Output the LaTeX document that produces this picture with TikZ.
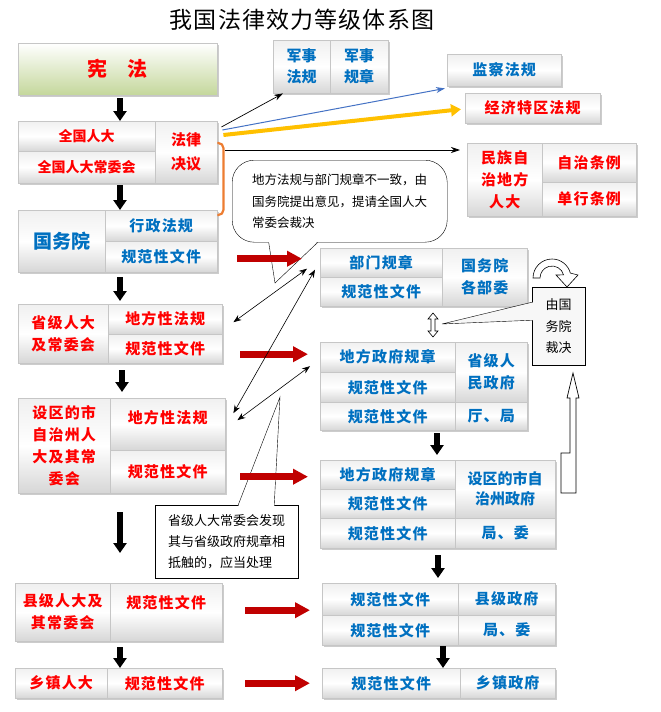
\documentclass[tikz,border=0pt]{standalone}
\usepackage{fontspec}
\setmainfont{Noto Sans CJK SC}
\usetikzlibrary{arrows.meta,shadows,calc}

\definecolor{lawred}{RGB}{255,0,0}
\definecolor{lawblue}{RGB}{0,112,192}
\definecolor{arrowred}{RGB}{192,0,0}
\definecolor{arrowyellow}{RGB}{255,192,0}
\definecolor{linkblue}{RGB}{68,114,196}
\definecolor{bracketorange}{RGB}{237,125,49}
\definecolor{xfgreen}{RGB}{196,215,155}

\begin{document}
\begin{tikzpicture}[x=1pt,y=-1pt,
  cell/.style={draw=gray!45, top color=gray!12, bottom color=gray!32, middle color=white,
    anchor=north west, inner sep=0pt, align=center,
    font=\fontsize{15pt}{22pt}\selectfont\bfseries\addfontfeatures{LetterSpace=8},
    drop shadow={shadow xshift=1.5pt, shadow yshift=-1.5pt, opacity=.4}},
  dims/.style 2 args={minimum width=#1pt, minimum height=#2pt},
  redlbl/.style={text=lawred},
  bluelbl/.style={text=lawblue},
  downarrow/.style={line width=6pt, -{Triangle[width=13pt,length=10pt]}},
  redarrow/.style={arrowred, line width=7pt, -{Triangle[width=15pt,length=15pt]}},
  thinlink/.style={line width=0.6pt, {Stealth[length=8pt,width=6pt]}-{Stealth[length=8pt,width=6pt]}},
  note/.style={draw, fill=white, anchor=north west, align=left, inner sep=0pt,
    font=\fontsize{12.5pt}{21.5pt}\selectfont},
]
\useasboundingbox (0,0) rectangle (661,712);

% Title
\node[font=\fontsize{23pt}{26pt}\selectfont\addfontfeatures{LetterSpace=5}] (title) at (302,20) {我国法律效力等级体系图};

%% left column
% 宪法
\node[cell, top color=white, bottom color=xfgreen, redlbl, dims={199}{52},
  font=\fontsize{20pt}{24pt}\selectfont\bfseries] (xf) at (18,43) {宪\quad 法};
% 全国人大
\node[cell, redlbl, dims={137}{30}, font=\fontsize{14pt}{22pt}\selectfont\bfseries] (qgA) at (18,121) {全国人大};
\node[cell, redlbl, dims={137}{32}, font=\fontsize{14pt}{22pt}\selectfont\bfseries] (qgB) at (18,151) {全国人大常委会};
\node[cell, redlbl, dims={62}{62}, font=\fontsize{15pt}{24pt}\selectfont\bfseries] (fl) at (155,121) {法律\\决议};
% 国务院
\node[cell, bluelbl, dims={87}{62}, font=\fontsize{19pt}{22pt}\selectfont\bfseries] (gwy) at (18,210) {国务院};
\node[cell, bluelbl, dims={112}{31}] (xzfg) at (105,210) {行政法规};
\node[cell, bluelbl, dims={112}{31}] (gwyB) at (105,241) {规范性文件};
% 省级人大
\node[cell, redlbl, dims={90}{59}] (sjrd) at (18,304) {省级人大\\及常委会};
\node[cell, redlbl, dims={114}{30}] (sjA) at (108,304) {地方性法规};
\node[cell, redlbl, dims={114}{29}] (sjB) at (108,334) {规范性文件};
% 设区的市人大
\node[cell, redlbl, dims={92}{95}] (sqrd) at (18,398) {设区的市\\自治州人\\大及其常\\委会};
\node[cell, redlbl, dims={115}{52}, text depth=14pt] (sqA) at (110,398) {地方性法规};
\node[cell, redlbl, dims={115}{43}] (sqB) at (110,450) {规范性文件};
% 县级人大
\node[cell, redlbl, dims={95}{58}] (xjrd) at (15,583) {县级人大及\\其常委会};
\node[cell, redlbl, dims={112}{58}, text depth=21pt] (xjA) at (110,583) {规范性文件};
% 乡镇人大
\node[cell, redlbl, dims={92}{30}] (xzrd) at (15,668) {乡镇人大};
\node[cell, redlbl, dims={115}{30}] (xzA) at (107,668) {规范性文件};

%% right column
% 军事
\node[cell, bluelbl, dims={57}{53}, font=\fontsize{15pt}{21pt}\selectfont\bfseries] (js1) at (273,40) {军事\\法规};
\node[cell, bluelbl, dims={58}{53}, font=\fontsize{15pt}{21pt}\selectfont\bfseries] (js2) at (330,40) {军事\\规章};
% 监察法规
\node[cell, bluelbl, dims={114}{32}] (jc) at (447,54) {监察法规};
% 经济特区法规
\node[cell, redlbl, dims={135}{30}] (jj) at (465,93) {经济特区法规};
% 民族自治地方
\node[cell, redlbl, dims={75}{73}] (mz) at (467,143) {民族自\\治地方\\人大};
\node[cell, redlbl, dims={94}{39}] (mzA) at (542,143) {自治条例};
\node[cell, redlbl, dims={94}{34}] (mzB) at (542,182) {单行条例};
% 部门规章
\node[cell, bluelbl, dims={122}{29}] (bmA) at (320,248) {部门规章};
\node[cell, bluelbl, dims={122}{29}] (bmB) at (320,277) {规范性文件};
\node[cell, bluelbl, dims={85}{58}] (bw) at (442,248) {国务院\\各部委};
% 省级政府
\node[cell, bluelbl, dims={135}{30}] (dfA) at (320,342) {地方政府规章};
\node[cell, bluelbl, dims={135}{30}] (dfB) at (320,372) {规范性文件};
\node[cell, bluelbl, dims={135}{28}] (dfC) at (320,402) {规范性文件};
\node[cell, bluelbl, dims={72}{60}] (sjzf) at (455,342) {省级人\\民政府};
\node[cell, bluelbl, dims={72}{28}] (tj) at (455,402) {厅、局};
% 设区的市政府
\node[cell, bluelbl, dims={135}{29}] (sqzA) at (320,460) {地方政府规章};
\node[cell, bluelbl, dims={135}{29}] (sqzB) at (320,489) {规范性文件};
\node[cell, bluelbl, dims={135}{30}] (sqzC) at (320,518) {规范性文件};
\node[cell, bluelbl, dims={100}{58}, font=\fontsize{15pt}{20pt}\selectfont\bfseries] (sqzf) at (455,460) {设区的市自\\治州政府};
\node[cell, bluelbl, dims={100}{30}] (jw) at (455,518) {局、委};
% 县级政府
\node[cell, bluelbl, dims={136}{32}] (xjzfA) at (322,583) {规范性文件};
\node[cell, bluelbl, dims={136}{30}] (xjzfB) at (322,615) {规范性文件};
\node[cell, bluelbl, dims={97}{32}] (xjzf) at (458,583) {县级政府};
\node[cell, bluelbl, dims={97}{30}] (jwB) at (458,615) {局、委};
% 乡镇政府
\node[cell, bluelbl, dims={138}{30}] (xzfA) at (322,668) {规范性文件};
\node[cell, bluelbl, dims={95}{30}] (xzzf) at (460,668) {乡镇政府};

%% callouts
% 地方法规与部门规章不一致
\node[note, rounded corners=22pt, dims={215}{82}] (note1) at (232,160)
  {地方法规与部门规章不一致，由\\国务院提出意见，提请全国人大\\常委会裁决};
\coordinate (tip1) at (275,283);
\fill[white] ($(note1.south)+(-71,-1.5)$) -- (tip1) -- ($(note1.south)+(-22,-1.5)$) -- cycle;
\draw ($(note1.south)+(-71,0)$) -- (tip1) -- ($(note1.south)+(-22,0)$);
% 省级人大常委会发现
\node[note, dims={143}{73}, font=\fontsize{13pt}{21pt}\selectfont] (note2) at (155,505)
  {省级人大常委会发现\\其与省级政府规章相\\抵触的，应当处理};
\coordinate (tip2) at (280,397);
\fill[white] ($(note2.north)+(11.5,1.5)$) -- (tip2) -- ($(note2.north)+(47.5,1.5)$) -- cycle;
\draw ($(note2.north)+(11.5,0)$) -- (tip2) -- ($(note2.north)+(47.5,0)$);
% 由国务院裁决
\node[note, fill=gray!6, dims={53}{78}, font=\fontsize{13pt}{21.5pt}\selectfont] (note3) at (532,287)
  {由国\\务院\\裁决};
\coordinate (tip3) at (442,324);
\fill[gray!6] ($(note3.west)+(1.5,-24)$) -- (tip3) -- ($(note3.west)+(1.5,-6)$) -- cycle;
\draw ($(note3.west)+(0,-24)$) -- (tip3) -- ($(note3.west)+(0,-6)$);

% hollow double arrow
\draw[fill=white, line width=0.6pt] (433,313) -- (438,319) -- (435,319) -- (435,331) -- (438,331)
  -- (433,337) -- (428,331) -- (431,331) -- (431,319) -- (428,319) -- cycle;
% curved arrow over note3
\draw[fill=white, line width=0.6pt] (533,278) arc[start angle=180, end angle=15, radius=19pt]
  -- (578,275) -- (567,287) -- (556,275) -- (563.6,274.9)
  arc[start angle=15, end angle=180, radius=12pt] -- cycle;
% bent up arrow
\draw[fill=white, line width=0.7pt] (561,493) -- (576,493) -- (576,398) -- (579,398) -- (573,373)
  -- (567,398) -- (570,398) -- (570,453) -- (561,453) -- cycle;

%% connectors from 法律决议
\draw[line width=0.7pt, -{Stealth[length=9pt,width=6pt]}] ($(fl.north east)+(4,6)$) -- ($(js1.south west)+(10,0)$);
\draw[linkblue, line width=1pt, -{Stealth[length=9pt,width=6pt]}] ($(fl.north east)+(5,9)$) -- ($(jc.south west)+(-2,2)$);
\draw[arrowyellow, line width=4pt, -{Triangle[width=12pt,length=10pt]}] ($(fl.north east)+(6,14)$) -- ($(jj.west)+(-4,1)$);
\coordinate (flout) at ($(fl.north east)+(8,29)$);
\draw[line width=0.8pt, shorten >=7pt, -{Stealth[length=9pt,width=6pt]}] (flout) -- (flout -| mz.west);
\draw[bracketorange, line width=2.2pt, rounded corners=5pt] ($(fl.north east)+(0,22)$) -- ++(6,0)
  |- ($(xzfg.north east)+(0,5)$);

%% black arrows down
\draw[downarrow, shorten <=3pt] (120,0 |- xf.south) -- (120,0 |- qgA.north);
\draw[downarrow, shorten <=2pt] (120,0 |- qgB.south) -- (120,0 |- gwy.north);
\draw[downarrow, shorten <=5pt, shorten >=3pt] (120,0 |- gwy.south) -- (120,0 |- sjrd.north);
\draw[downarrow, shorten <=7pt, shorten >=6pt] (122,0 |- sjrd.south) -- (122,0 |- sqrd.north);
\draw[downarrow, shorten <=19pt, shorten >=30pt] (120,0 |- sqrd.south) -- (120,0 |- xjrd.north);
\draw[downarrow, shorten <=6pt] (120,0 |- xjrd.south) -- (120,0 |- xzrd.north);
\draw[downarrow, shorten <=3pt, shorten >=5pt] (437,0 |- dfC.south) -- (437,0 |- sqzA.north);
\draw[downarrow, shorten <=7pt, shorten >=5pt] (438,0 |- sqzC.south) -- (438,0 |- xjzfA.north);
\draw[downarrow, shorten <=1pt] (443,0 |- xjzfB.south) -- (443,0 |- xzfA.north);

%% red arrows across
\draw[redarrow] ($(gwyB.east)+(20,2)$) -- ($(gwyB.east -| bmA.west)+(-18,2)$);
\draw[redarrow] ($(sjB.east |- dfA.west)+(18,-3)$) -- ($(dfA.west)+(-12,-3)$);
\draw[redarrow] ($(sqB.east |- sqzA.west)+(15,2)$) -- ($(sqzA.west)+(-12,2)$);
\draw[redarrow] ($(xjA.east)+(23,-2)$) -- ($(xjA.east -| xjzfA.west)+(-12,-2)$);
\draw[redarrow] ($(xzA.east)+(23,0)$) -- ($(xzA.east -| xzfA.west)+(-12,0)$);

%% thin two-way links
\draw[thinlink] ($(sjA.east)+(11,3)$) -- ($(bmA.west)+(-13,6)$);
\draw[thinlink] ($(sqA.east)+(8,-11)$) -- ($(bmA.west)+(-5,7)$);
\draw[thinlink] ($(sqA.east)+(12,-4)$) -- ($(dfA.west)+(-10,9)$);
\end{tikzpicture}
\end{document}
